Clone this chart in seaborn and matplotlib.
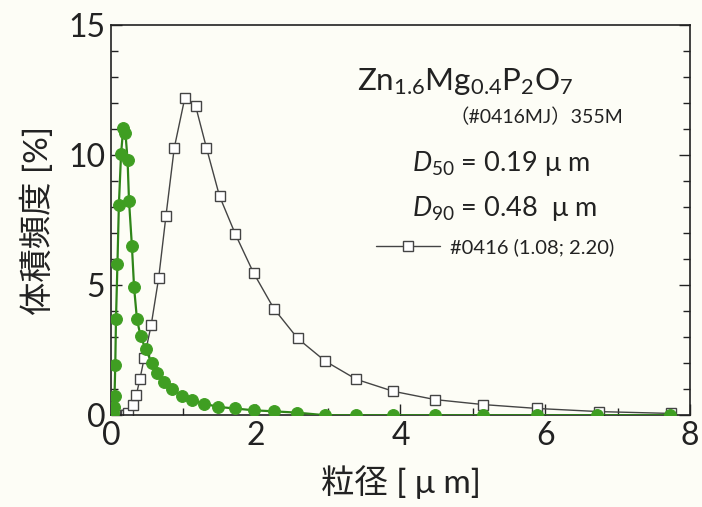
import matplotlib
matplotlib.use("Agg")
import matplotlib.pyplot as plt
import seaborn as sns
import pandas as pd
from matplotlib.ticker import MultipleLocator

# Data
sq_x = [0.16, 0.19, 0.21, 0.24, 0.30, 0.35, 0.40, 0.46, 0.556, 0.66, 0.76, 0.875, 1.02, 1.17,
        1.32, 1.50, 1.72, 1.97, 2.25, 2.58, 2.96, 3.39, 3.90, 4.48, 5.14, 5.89, 6.74, 7.73]
sq_y = [0.0, 0.0, 0.0, 0.07, 0.41, 0.77, 1.38, 2.2, 3.46, 5.28, 7.65, 10.27, 12.18, 11.88,
        10.27, 8.42, 6.95, 5.47, 4.1, 2.95, 2.08, 1.38, 0.92, 0.6, 0.41, 0.26, 0.14, 0.07]

gr_x = [0.01, 0.02, 0.03, 0.04, 0.05, 0.06, 0.07, 0.09, 0.11, 0.14, 0.17, 0.20, 0.23, 0.25,
        0.29, 0.32, 0.36, 0.41, 0.48, 0.565, 0.64, 0.74, 0.85, 0.98, 1.12, 1.28, 1.48, 1.71,
        1.97, 2.25, 2.57, 2.96, 3.39, 3.90, 4.48, 5.14, 5.88, 6.72, 7.72]
gr_y = [0.0, 0.02, 0.08, 0.32, 0.73, 1.92, 3.68, 5.81, 8.08, 10.03, 11.03, 10.86, 9.81, 8.24,
        6.5, 4.91, 3.68, 3.04, 2.53, 2.01, 1.63, 1.28, 0.99, 0.74, 0.58, 0.45, 0.32, 0.26,
        0.19, 0.15, 0.10, 0.0, 0.0, 0.0, 0.0, 0.0, 0.0, 0.0, 0.0]

x_ticks = [0, 2, 4, 6, 8]
y_ticks = [0, 5, 10, 15]
x_label = "粒径 [ μ m]"
y_label = "体積頻度 [%]"
legend_label = "#0416 (1.08; 2.20)"

sns.set_theme(style="ticks")
plt.rcParams['font.family'] = ['Lato', 'Noto Sans CJK JP', 'DejaVu Sans']
plt.rcParams['mathtext.fontset'] = 'custom'
plt.rcParams['mathtext.rm'] = 'Lato'
plt.rcParams['mathtext.it'] = 'Lato:italic'

bg = '#fdfdf6'
fig = plt.figure(figsize=(7.02, 5.07), dpi=100, facecolor=bg)
ax = fig.add_axes([0.158, 0.181, 0.825, 0.770])
ax.set_facecolor(bg)

df_sq = pd.DataFrame({"x": sq_x, "y": sq_y})
df_gr = pd.DataFrame({"x": gr_x, "y": gr_y})

sns.lineplot(data=df_gr, x="x", y="y", ax=ax, color='#2f8519', linewidth=1.6,
             marker='o', markersize=8.5, markerfacecolor='#3f9e22', markeredgecolor='#3f9e22',
             label='_nolegend_', zorder=3)
sns.lineplot(data=df_sq, x="x", y="y", ax=ax, color='#444444', linewidth=1.0,
             marker='s', markersize=6.5, markerfacecolor='white', markeredgecolor='#444444',
             markeredgewidth=1.0, label=legend_label, zorder=2)

ax.set_xlim(0, 8)
ax.set_ylim(0, 15)
ax.set_xticks(x_ticks)
ax.set_yticks(y_ticks)
ax.xaxis.set_minor_locator(MultipleLocator(1))
ax.yaxis.set_minor_locator(MultipleLocator(1))
ax.tick_params(which='both', direction='in', right=True, top=False, color='#222222', width=1.0)
ax.tick_params(which='major', length=8, labelsize=23, pad=4, labelcolor='#222222')
ax.tick_params(which='minor', length=5)
for s in ax.spines.values():
    s.set_color('#222222')
    s.set_linewidth(1.2)

ax.set_xlabel(x_label, fontsize=24, color='#222222', labelpad=10)
ax.set_ylabel(y_label, fontsize=24, color='#222222', labelpad=10)

ax.text(0.425, 0.855, "Zn$_{1.6}$Mg$_{0.4}$P$_2$O$_7$", transform=ax.transAxes,
        fontsize=22.5, color='#222222', ha='left', va='center')
ax.text(0.885, 0.765, "（#0416MJ）355M", transform=ax.transAxes,
        fontsize=14, color='#222222', ha='right', va='center')
ax.text(0.52, 0.645, "$D_{50}$ = 0.19 μ m", transform=ax.transAxes,
        fontsize=19.5, color='#222222', ha='left', va='center')
ax.text(0.52, 0.53, "$D_{90}$ = 0.48  μ m", transform=ax.transAxes,
        fontsize=19.5, color='#222222', ha='left', va='center')

leg = ax.legend(loc='center left', bbox_to_anchor=(0.44, 0.43), frameon=False,
                fontsize=14.5, handlelength=3.2, handletextpad=0.5, borderpad=0)
for t in leg.get_texts():
    t.set_color('#222222')

fig.savefig("out.png", dpi=100, facecolor=bg)
